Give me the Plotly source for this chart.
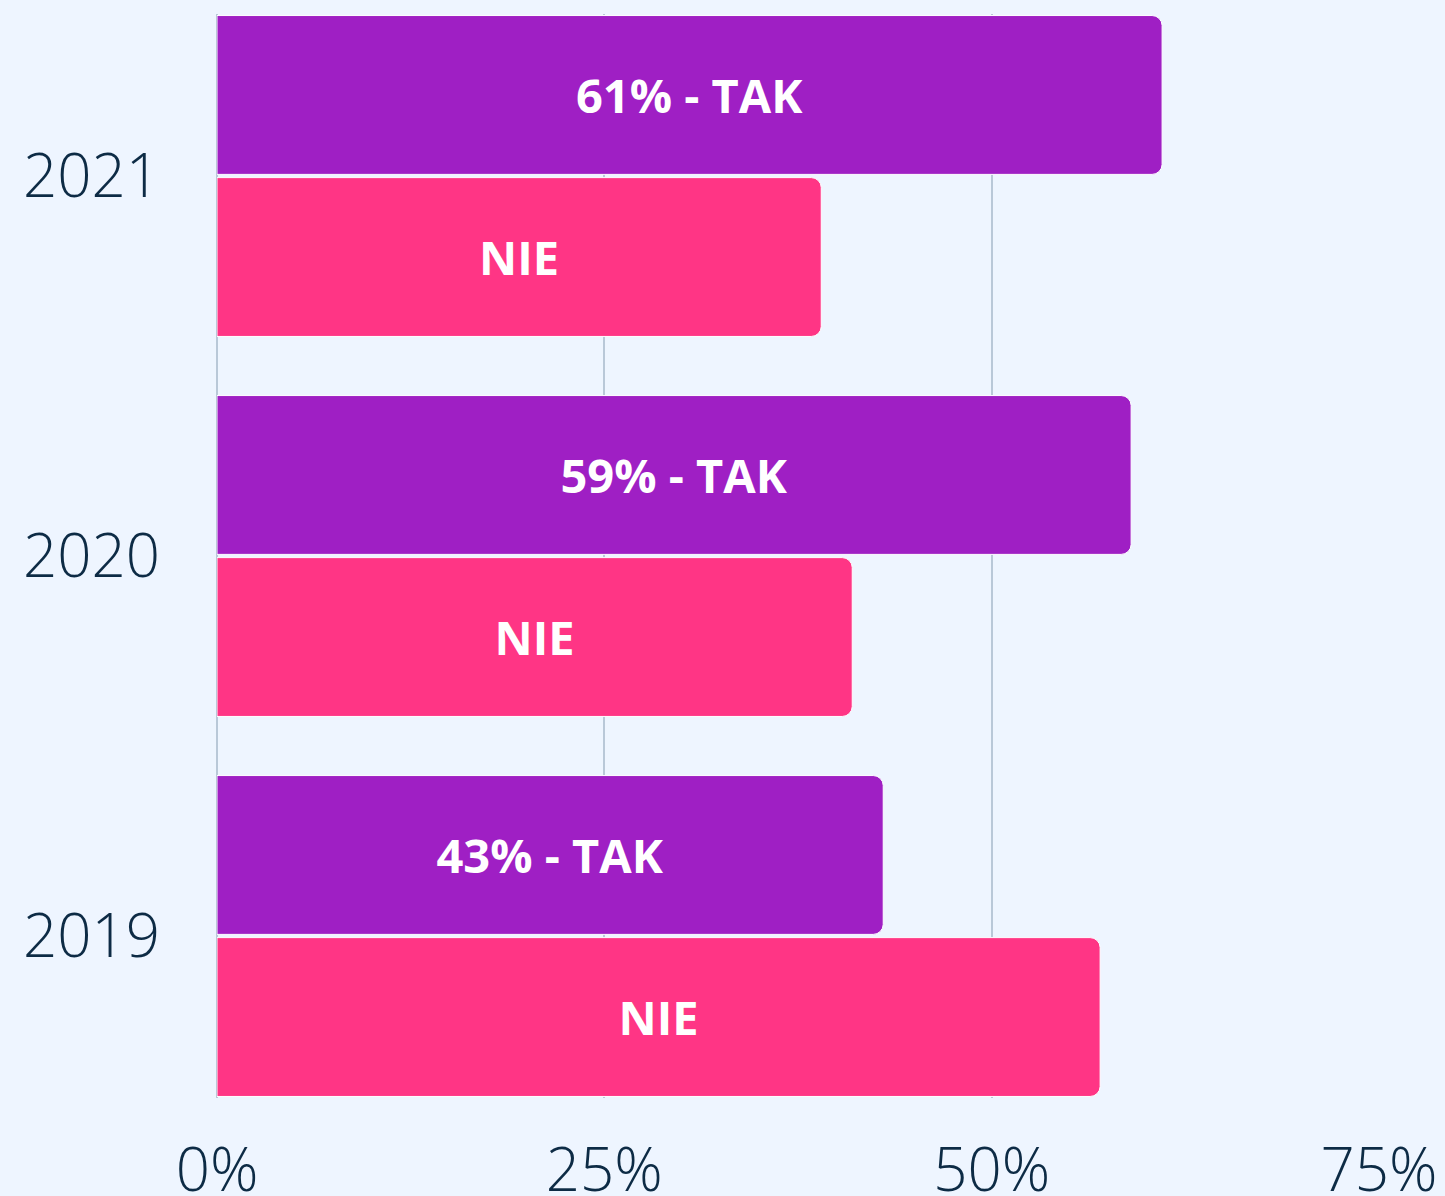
import plotly.graph_objects as go

years = ["2019", "2020", "2021"]
tak = [43, 59, 61]
nie = [57, 41, 39]
tak_labels = [f"{v}% - TAK" for v in tak]
nie_labels = ["NIE", "NIE", "NIE"]
x_ticks = [0, 25, 50, 75]
x_tick_text = ["0%", "25%", "50%", "75%"]

PURPLE = "#9f1fc4"
PINK = "#ff3585"
BG = "#eef5ff"
TEXT = "#0d2b45"
GRID = "#b9c8d8"

fig = go.Figure()
fig.add_trace(go.Bar(
    y=years, x=nie, orientation="h", name="NIE",
    marker=dict(color=PINK, line=dict(color="white", width=1)),
    text=nie_labels, textposition="inside", insidetextanchor="middle",
    textfont=dict(family="Open Sans", size=47, color="white", weight=700),
    textangle=0,
))
fig.add_trace(go.Bar(
    y=years, x=tak, orientation="h", name="TAK",
    marker=dict(color=PURPLE, line=dict(color="white", width=1)),
    text=tak_labels, textposition="inside", insidetextanchor="middle",
    textfont=dict(family="Open Sans", size=47, color="white", weight=700),
    textangle=0,
))

fig.update_layout(
    width=1445, height=1196,
    margin=dict(l=217, r=66, t=14, b=98),
    paper_bgcolor=BG, plot_bgcolor=BG,
    barmode="group", bargap=0.147, bargroupgap=0.02,
    barcornerradius=10,
    showlegend=False,
    uniformtext=dict(mode=False),
    font=dict(family="Open Sans", color=TEXT),
)
fig.update_xaxes(
    range=[0, 75], tickvals=x_ticks, ticktext=x_tick_text,
    showgrid=True, gridcolor=GRID, gridwidth=2,
    zeroline=True, zerolinecolor=GRID, zerolinewidth=2,
    tickfont=dict(family="Open Sans", size=60, color=TEXT, weight=300),
    ticks="outside", ticklen=20, tickcolor="rgba(0,0,0,0)",
    automargin=False, fixedrange=True,
)
fig.update_yaxes(
    type="category", categoryorder="array", categoryarray=years,
    range=[-0.4263, 2.4263],
    showgrid=False, zeroline=False, showline=False,
    tickfont=dict(family="Open Sans", size=60, color=TEXT, weight=300),
    ticks="outside", ticklen=44, tickcolor="rgba(0,0,0,0)",
    automargin=False, fixedrange=True,
)

fig.write_html(
    "out.html",
    config={"displayModeBar": False},
    post_script="document.body.style.margin='0';document.body.style.background='%s';document.body.style.overflow='hidden';" % BG,
)
